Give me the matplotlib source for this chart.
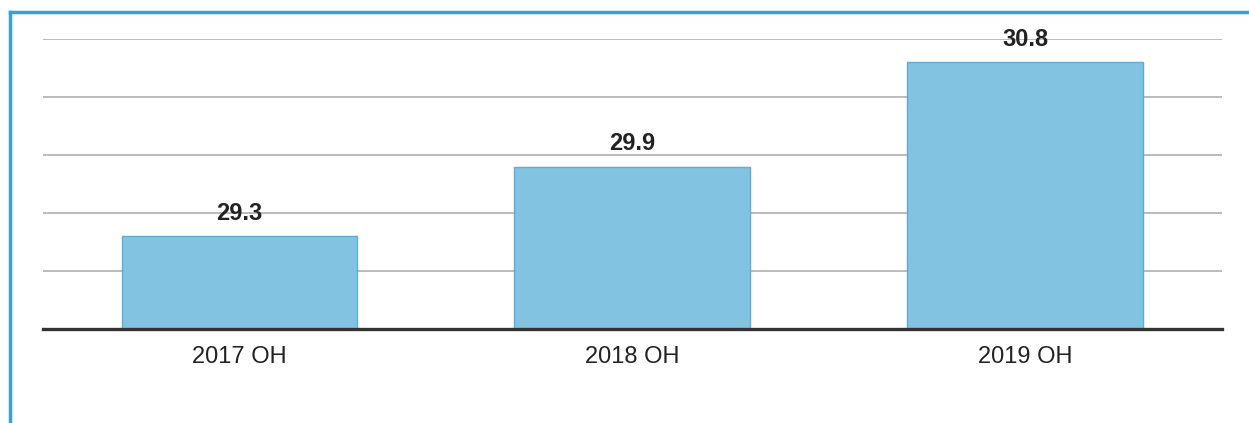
import matplotlib.pyplot as plt
from matplotlib.lines import Line2D

plt.rcParams['font.family'] = ['Liberation Sans', 'DejaVu Sans']

categorias = ["2017 ОН", "2018 ОН", "2019 ОН"]
valores = [29.3, 29.9, 30.8]
etiquetas = ["29.3", "29.9", "30.8"]

fig = plt.figure(figsize=(12.49, 4.23), dpi=100)
ax = fig.add_axes([0.0344, 0.222, 0.9436, 0.686])

x = range(len(categorias))
ax.bar(x, valores, width=0.6, bottom=0, color='#82c3e2', edgecolor='#5fabd3',
       linewidth=1, zorder=3)

ax.set_ylim(28.5, 31.0)
ax.set_xlim(-0.5, 2.5)
ax.set_yticks([29.0, 29.5, 30.0, 30.5, 31.0])
ax.yaxis.grid(True, color='#b5b5b5', linewidth=1.3, zorder=0)
ax.set_axisbelow(True)
ax.tick_params(axis='y', left=False, labelleft=False)
ax.tick_params(axis='x', bottom=False, pad=9, labelsize=17, colors='#222222')
ax.set_xticks(list(x))
ax.set_xticklabels(categorias)

for s in ['top', 'right', 'left']:
    ax.spines[s].set_visible(False)
ax.spines['bottom'].set_color('#333333')
ax.spines['bottom'].set_linewidth(2.4)
ax.spines['bottom'].set_zorder(4)

for i, v in enumerate(valores):
    ax.annotate(etiquetas[i], (i, v), xytext=(0, 8), textcoords='offset points',
                ha='center', va='bottom', fontsize=17, fontweight='bold',
                color='#222222')

# marco azul del documento escaneado
fig.add_artist(Line2D([10 / 1249, 10 / 1249], [0, 1 - 12 / 423],
                      transform=fig.transFigure, color='#3a9fd4', linewidth=2.5))
fig.add_artist(Line2D([10 / 1249, 1], [1 - 12 / 423, 1 - 12 / 423],
                      transform=fig.transFigure, color='#3a9fd4', linewidth=2.5))

fig.savefig('out.png', dpi=100)
